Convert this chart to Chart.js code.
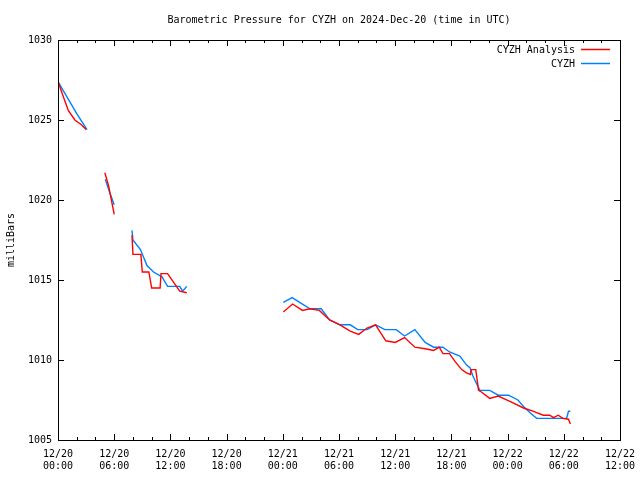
<!DOCTYPE html>
<html>
<head>
<meta charset="utf-8">
<script src="https://cdn.jsdelivr.net/npm/chart.js@4/dist/chart.umd.min.js"></script>
<style>
  html, body { margin: 0; padding: 0; background: #fff; }
  #wrap { width: 640px; height: 480px; }
</style>
</head>
<body>
<div id="wrap"><canvas id="chart" width="640" height="480"></canvas></div>
<script>
// hours since 2024-12-20 00:00 UTC, null breaks the line
const analysisHours = [0, 0.6, 1.1, 1.8, 2.5, 3.0, 4,
  5.0, 5.4, 6.0, 7,
  7.9, 8.0, 8.85, 9.0, 9.7, 10.0, 10.9, 11.0, 11.7, 13.0, 13.75, 18,
  24.05, 25.05, 26.1, 26.9, 27.9, 29.0, 30.1, 31.2, 32.1, 33.0, 33.9, 35.0, 36.0, 37.0, 38.1, 39.2,
  40.1, 40.7, 41.1, 41.8, 42.4, 43.1, 43.6, 44.05, 44.1, 44.6, 44.9, 45.2, 46.1, 47.0, 48.3, 49.7,
  50.7, 51.8, 52.5, 52.9, 53.4, 53.9, 54.5, 54.7]
const analysisPressure = [1027.4, 1026.4, 1025.6, 1025.0, 1024.7, 1024.4, null,
  1021.7, 1020.9, 1019.1, null,
  1017.8, 1016.6, 1016.6, 1015.5, 1015.5, 1014.5, 1014.5, 1015.4, 1015.4, 1014.3, 1014.2, null,
  1013.0, 1013.5, 1013.1, 1013.2, 1013.1, 1012.5, 1012.2, 1011.8, 1011.6, 1012.0, 1012.2, 1011.2, 1011.1, 1011.4, 1010.8, 1010.7,
  1010.6, 1010.8, 1010.4, 1010.4, 1009.9, 1009.4, 1009.2, 1009.1, 1009.4, 1009.4, 1008.1, 1008.0, 1007.6, 1007.75, 1007.4, 1007.0,
  1006.8, 1006.55, 1006.55, 1006.4, 1006.55, 1006.35, 1006.3, 1006.0]

const cyzhHours = [0, 1.0, 2.0, 3.1, 4,
  5.05, 5.5, 6.0, 7,
  7.9, 8.0, 8.8, 9.5, 10.2, 11.1, 11.7, 13.0, 13.3, 13.75, 18,
  24.05, 25.0, 25.8, 26.9, 28.1, 29.0, 30.1, 31.2, 32.0, 33.0, 33.9, 34.9, 36.1, 37.0, 38.1, 39.2,
  40.1, 41.1, 41.8, 42.9, 43.6, 44.0, 44.3, 44.7, 45.05, 46.1, 47.0, 48.1, 49.1, 49.7,
  50.4, 51.1, 54.3, 54.5, 54.7]
const cyzhPressure = [1027.4, 1026.4, 1025.4, 1024.4, null,
  1021.3, 1020.5, 1019.7, null,
  1018.1, 1017.5, 1016.9, 1015.9, 1015.5, 1015.2, 1014.6, 1014.6, 1014.3, 1014.6, null,
  1013.6, 1013.9, 1013.6, 1013.2, 1013.2, 1012.5, 1012.2, 1012.2, 1011.9, 1011.9, 1012.2, 1011.9, 1011.9, 1011.5, 1011.9, 1011.1,
  1010.8, 1010.8, 1010.5, 1010.25, 1009.7, 1009.5, 1009.0, 1008.5, 1008.1, 1008.1, 1007.8, 1007.8, 1007.5, 1007.1,
  1006.7, 1006.35, 1006.35, 1006.8, 1006.8]

const seriesLabels = ['CYZH Analysis', 'CYZH']
const seriesColors = ['#ff0000', '#0080ff']
const yTicks = [1005, 1010, 1015, 1020, 1025, 1030]
const startDay = 20

const FONT = '10px "DejaVu Sans Mono", "Liberation Mono", monospace'

const toPoints = (xs, ys) => xs.map((x, i) => ({ x, y: ys[i] }))

const timeLabel = v => {
  const day = startDay + Math.floor(v / 24)
  const hr = v % 24
  return ['12/' + day, String(hr).padStart(2, '0') + ':00']
}

// frame, inward ticks, title, y label and legend like gnuplot
const decor = {
  id: 'decor',
  afterDraw(chart) {
    const { ctx, chartArea: a, scales: { x, y } } = chart
    ctx.save()
    ctx.strokeStyle = '#000'
    ctx.lineWidth = 1
    ctx.strokeRect(Math.round(a.left) + 0.5, Math.round(a.top) + 0.5,
      Math.round(a.right - a.left), Math.round(a.bottom - a.top))
    ctx.beginPath()
    for (let h = 0; h <= 60; h += 2) {
      const px = Math.round(x.getPixelForValue(h)) + 0.5
      const len = h % 6 === 0 ? 6 : 3
      ctx.moveTo(px, a.bottom); ctx.lineTo(px, a.bottom - len)
      ctx.moveTo(px, a.top); ctx.lineTo(px, a.top + len)
    }
    yTicks.forEach(v => {
      const py = Math.round(y.getPixelForValue(v)) + 0.5
      ctx.moveTo(a.left, py); ctx.lineTo(a.left + 6, py)
      ctx.moveTo(a.right, py); ctx.lineTo(a.right - 6, py)
    })
    ctx.stroke()

    ctx.fillStyle = '#000'
    ctx.font = FONT
    ctx.textBaseline = 'middle'
    ctx.textAlign = 'center'
    ctx.fillText('Barometric Pressure for CYZH on 2024-Dec-20 (time in UTC)', (a.left + a.right) / 2, 20)

    ctx.save()
    ctx.translate(11, 240)
    ctx.rotate(-Math.PI / 2)
    ctx.fillText('milliBars', 0, 0)
    ctx.restore()

    ctx.textAlign = 'right'
    seriesLabels.forEach((lab, i) => {
      const ly = 50 + i * 14
      ctx.fillStyle = '#000'
      ctx.fillText(lab, 575, ly)
      ctx.strokeStyle = seriesColors[i]
      ctx.lineWidth = 1.5
      ctx.beginPath()
      ctx.moveTo(581, ly - 0.5)
      ctx.lineTo(610, ly - 0.5)
      ctx.stroke()
    })
    ctx.restore()
  }
}

new Chart(document.getElementById('chart'), {
  type: 'line',
  data: {
    datasets: [{
      label: seriesLabels[0],
      data: toPoints(analysisHours, analysisPressure),
      borderColor: seriesColors[0],
      backgroundColor: seriesColors[0],
      borderWidth: 1.4,
      pointRadius: 0,
      fill: false,
      spanGaps: false,
    }, {
      label: seriesLabels[1],
      data: toPoints(cyzhHours, cyzhPressure),
      borderColor: seriesColors[1],
      backgroundColor: seriesColors[1],
      borderWidth: 1.4,
      pointRadius: 0,
      fill: false,
      spanGaps: false,
    }]
  },
  options: {
    responsive: false,
    animation: false,
    layout: { padding: { top: 40, right: 20, left: 0, bottom: 0 } },
    plugins: {
      legend: { display: false },
      title: { display: false },
      tooltip: { enabled: false },
    },
    scales: {
      x: {
        type: 'linear',
        min: 0,
        max: 60,
        grid: { display: false, drawTicks: false },
        border: { display: false },
        afterFit: s => {
          s.height = 40
          s.paddingLeft = 0
          s.paddingRight = 0
        },
        ticks: {
          stepSize: 6,
          autoSkip: false,
          maxRotation: 0,
          padding: 8,
          color: '#000',
          font: { family: '"DejaVu Sans Mono", "Liberation Mono", monospace', size: 10, lineHeight: 1.2 },
          callback: v => timeLabel(v),
        }
      },
      y: {
        min: 1005,
        max: 1030,
        grid: { display: false, drawTicks: false },
        border: { display: false },
        afterFit: s => { s.width = 58 },
        ticks: {
          stepSize: 5,
          padding: 6,
          color: '#000',
          font: { family: '"DejaVu Sans Mono", "Liberation Mono", monospace', size: 10 },
          callback: v => String(v),
        }
      }
    }
  },
  plugins: [decor]
})
</script>
</body>
</html>
